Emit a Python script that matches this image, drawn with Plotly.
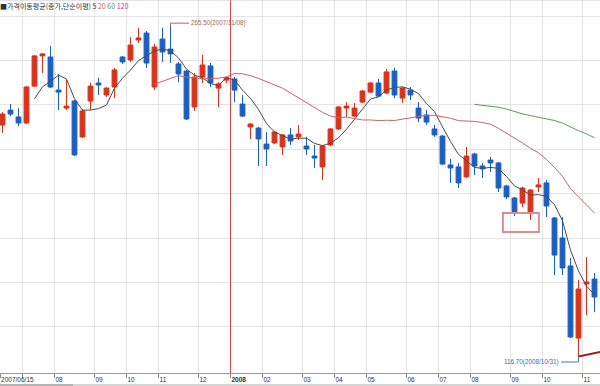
import pandas as pd
import plotly.graph_objects as go

# ---------------- data (weekly candles, Friday dates) ----------------
dates = [d.strftime("%Y/%m/%d") for d in pd.date_range("2007-06-15", "2008-11-14", freq="W-FRI")]

opens = [221.0, 227.7, 224.6, 221.9, 238.5, 252.1, 251.6, 236.7, 228.6, 231.8,
         215.6, 231.8, 239.9, 234.5, 238.1, 251.6, 250.3, 259.3, 262.4, 238.1,
         259.7, 255.2, 248.5, 245.3, 229.1, 242.6, 247.6, 237.6, 241.2, 241.7,
         230.4, 220.1, 219.6, 212.4, 212.9, 211.1, 216.5, 215.6, 211.5, 207.0,
         202.1, 212.0, 219.2, 228.6, 225.0, 231.3, 235.8, 239.9, 235.4, 245.3,
         233.1, 236.7, 228.6, 225.5, 219.2, 216.0, 203.0, 202.1, 197.6, 207.9,
         202.5, 205.2, 203.9, 193.5, 188.1, 185.8, 181.8, 193.1, 194.9, 179.1,
         170.1, 157.5, 125.0, 149.4, 151.6]
highs = [226.8, 230.4, 228.6, 238.5, 252.5, 253.4, 256.6, 244.0, 241.2, 232.2,
         228.2, 239.9, 242.2, 238.1, 246.7, 252.1, 260.6, 264.7, 263.3, 257.5,
         264.8, 265.5, 249.4, 245.8, 244.4, 252.5, 248.9, 240.3, 242.6, 242.6,
         234.5, 221.9, 220.1, 217.8, 218.3, 216.9, 219.6, 221.0, 215.6, 212.0,
         212.0, 219.6, 229.5, 231.3, 230.9, 236.7, 240.3, 241.7, 246.2, 246.7,
         238.1, 238.1, 231.3, 227.7, 221.0, 216.5, 205.7, 203.9, 211.1, 208.4,
         203.9, 206.6, 204.3, 194.0, 188.6, 193.1, 192.1, 197.1, 196.2, 179.5,
         179.5, 161.1, 151.2, 161.5, 154.3]
lows = [217.4, 225.0, 220.5, 221.4, 238.1, 244.4, 237.6, 227.7, 227.7, 207.0,
        215.1, 227.7, 234.5, 233.6, 233.1, 248.5, 249.4, 257.9, 246.7, 236.7,
        249.4, 248.9, 240.3, 223.2, 227.3, 239.9, 238.1, 229.1, 239.9, 231.3,
        224.6, 214.7, 202.5, 202.5, 212.4, 207.5, 212.0, 214.2, 207.5, 201.6,
        196.2, 211.5, 218.7, 224.6, 224.6, 230.9, 235.4, 233.6, 234.9, 233.1,
        230.9, 232.2, 222.3, 221.0, 215.6, 203.0, 194.9, 192.6, 197.1, 198.5,
        197.1, 199.8, 190.8, 187.6, 180.0, 184.0, 178.2, 190.8, 179.5, 153.4,
        153.4, 125.0, 116.7, 135.4, 136.7]
closes = [225.9, 225.9, 221.9, 238.1, 252.1, 253.0, 238.1, 235.8, 229.5, 207.5,
          227.3, 238.5, 239.0, 237.6, 245.8, 249.4, 257.0, 260.2, 248.9, 256.1,
          253.9, 253.0, 244.0, 223.7, 242.6, 248.0, 239.9, 239.5, 242.2, 236.7,
          225.0, 221.4, 214.7, 210.2, 217.8, 216.5, 213.8, 216.9, 210.2, 206.1,
          211.5, 219.2, 229.1, 229.5, 228.6, 236.3, 239.9, 234.0, 244.9, 234.5,
          237.6, 234.5, 224.1, 222.3, 216.5, 203.4, 201.6, 194.9, 207.0, 202.5,
          201.2, 203.9, 192.6, 188.6, 181.3, 192.6, 191.7, 194.0, 184.5, 162.4,
          156.6, 125.5, 147.1, 150.3, 143.5]

ma_periods = [5, 20, 60, 120]
ma_colors = ["#4a4a4a", "#c86464", "#5a9a5a", "#b040b0"]

high_label = "265.50(2007/11/08)"
low_label = "116.70(2008/10/31)"
high_week, high_price = 21, 265.5
low_week, low_price = 72, 116.7

# user-drawn objects
trend_weeks = [72, 75]
trend_prices = [116.7, 119.0]
box_weeks = [62.55, 67.05]
box_prices = [172.8, 181.3]
year_break_week = 28.5

RED = "#d8331b"
BLUE = "#1c5fc2"

x = list(range(len(dates)))

# ---------------- figure ----------------
fig = go.Figure()

fig.add_trace(go.Candlestick(
    x=x, open=opens, high=highs, low=lows, close=closes,
    increasing=dict(line=dict(color=RED, width=1), fillcolor=RED),
    decreasing=dict(line=dict(color=BLUE, width=1), fillcolor=BLUE),
    whiskerwidth=0, showlegend=False, text=dates, hoverinfo="text+y",
))

s = pd.Series(closes)
for n, c in zip(ma_periods, ma_colors):
    ma = s.rolling(n).mean()
    fig.add_trace(go.Scatter(x=x, y=ma, mode="lines", line=dict(color=c, width=1),
                             showlegend=False, hoverinfo="skip"))

fig.add_trace(go.Scatter(x=trend_weeks, y=trend_prices, mode="lines",
                         line=dict(color="#a01c1c", width=2), showlegend=False,
                         hoverinfo="skip", cliponaxis=True))

# ---------------- axes ----------------
PLOT_H = 373
y_lo, y_hi = 109.27, 277.29
ppu = PLOT_H / (y_hi - y_lo)       # pixels per price unit
x_lo, x_hi = -0.3125, 74.6875
ppw = 600 / (x_hi - x_lo)          # pixels per week

tickvals, ticktext = [], []
prev = None
for i, d in enumerate(dates):
    ym = d[:7]
    if ym != prev:
        if i == 0:
            tickvals.append(x_lo + 0.01)
            ticktext.append(d)
        else:
            tickvals.append(i - 0.5)
            mm = d[5:7]
            if mm == "01":
                ticktext.append("<b>" + d[:4] + "</b>")
            elif i < 4:
                ticktext.append("")
            else:
                ticktext.append(mm)
        prev = ym

fig.update_layout(
    width=600, height=386,
    margin=dict(l=0, r=0, t=0, b=386 - PLOT_H),
    paper_bgcolor="white", plot_bgcolor="white",
    showlegend=False, boxgap=0.14,
    xaxis=dict(range=[x_lo, x_hi], tickvals=tickvals, ticktext=ticktext,
               ticks="outside", ticklen=4, tickcolor="#8a8a8a", tickwidth=1,
               showline=True, linecolor="#9a9a9a", linewidth=1,
               showgrid=True, gridcolor="#e4e4e4", gridwidth=1, zeroline=False,
               ticklabelposition="outside right",
               tickfont=dict(family="Liberation Sans", size=6.5, color="#333333"),
               rangeslider=dict(visible=False), fixedrange=True),
    yaxis=dict(range=[y_lo, y_hi], tickvals=list(range(130, 271, 20)),
               showticklabels=False, showgrid=True, gridcolor="#e4e4e4",
               gridwidth=1, zeroline=False, showline=False, ticks="",
               fixedrange=True),
)

shapes = []
# year break line
shapes.append(dict(type="line", xref="x", yref="paper", x0=year_break_week, x1=year_break_week,
                   y0=0, y1=1, line=dict(color="#d24a4a", width=1)))
# user box
shapes.append(dict(type="rect", xref="x", yref="y", x0=box_weeks[0], x1=box_weeks[1],
                   y0=box_prices[0], y1=box_prices[1], line=dict(color="#d98f8f", width=2)))
# high connector
hx2 = high_week + 18.5 / ppw
hy2 = high_price + 3 / ppu
shapes.append(dict(type="path", xref="x", yref="y",
                   path=f"M {high_week},{high_price} L {high_week},{hy2} L {hx2},{hy2}",
                   line=dict(color="#b26a62", width=1)))
# low connector
lx2 = low_week - 17.5 / ppw
ly2 = low_price - 5.5 / ppu
shapes.append(dict(type="path", xref="x", yref="y",
                   path=f"M {low_week},{low_price} L {low_week},{ly2} L {lx2},{ly2}",
                   line=dict(color="#4f78a8", width=1)))
# top border and bottom scrollbar strip
shapes.append(dict(type="line", xref="paper", yref="paper", x0=0, x1=1, y0=1, y1=1,
                   line=dict(color="#c9c9d2", width=1)))
shapes.append(dict(type="rect", xref="paper", yref="paper", x0=0, x1=1,
                   y0=-(384 - PLOT_H) / PLOT_H, y1=-(387 - PLOT_H) / PLOT_H,
                   line=dict(width=0), fillcolor="#d6d6d6"))
shapes.append(dict(type="rect", xref="paper", yref="paper", x0=0, x1=73 / 600,
                   y0=-(384 - PLOT_H) / PLOT_H, y1=-(387 - PLOT_H) / PLOT_H,
                   line=dict(width=0), fillcolor="#b4b4b4"))
fig.update_layout(shapes=shapes)

annos = []
annos.append(dict(x=hx2, y=hy2, xref="x", yref="y", text=high_label, showarrow=False,
                  xanchor="left", yanchor="middle", xshift=0,
                  font=dict(family="Liberation Sans", size=6.3, color="#a8605a")))
annos.append(dict(x=lx2, y=ly2, xref="x", yref="y", text=low_label, showarrow=False,
                  xanchor="right", yanchor="middle",
                  font=dict(family="Liberation Sans", size=6.3, color="#3f6ea6")))
legend_txt = ("■가격이동평균(종가,단순이평) 5 "
              f"<span style='color:{ma_colors[1]}'>20</span> "
              f"<span style='color:{ma_colors[2]}'>60</span> "
              f"<span style='color:{ma_colors[3]}'>120</span>")
annos.append(dict(x=0, y=1 - 5.5 / PLOT_H, xref="paper", yref="paper", text=legend_txt,
                  showarrow=False, xanchor="left", yanchor="middle", xshift=-2,
                  font=dict(family="Noto Sans CJK KR", size=7, color="#333333")))
fig.update_layout(annotations=annos)

fig.write_html("out.html", config={"displayModeBar": False},
               post_script="document.body.style.margin='0';document.body.style.overflow='hidden';")
